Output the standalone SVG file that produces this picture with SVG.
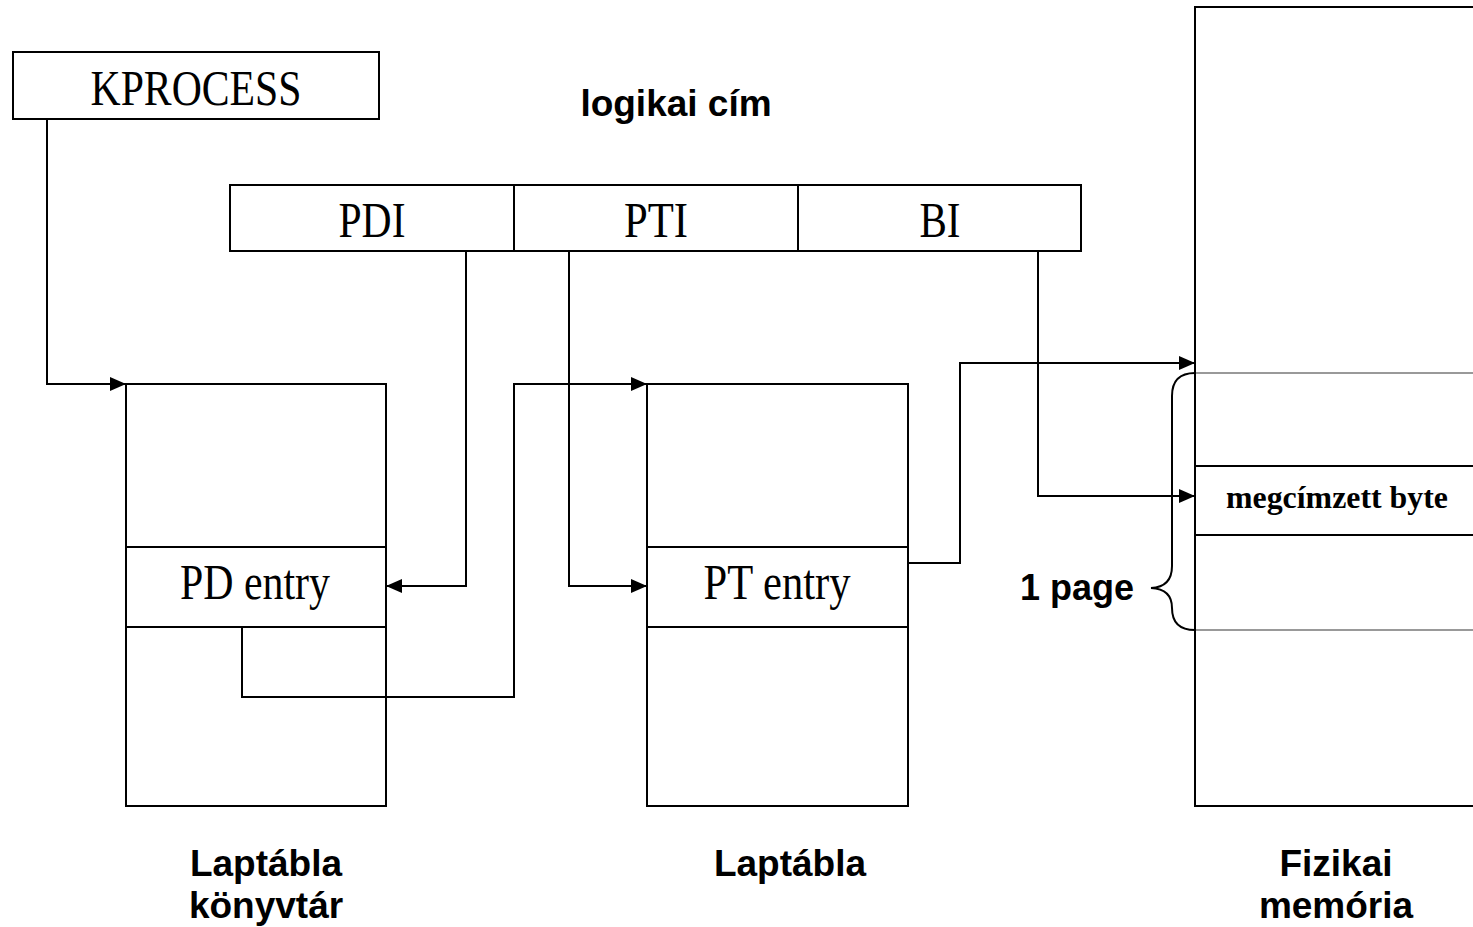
<svg xmlns="http://www.w3.org/2000/svg" width="1473" height="927" viewBox="0 0 1473 927">
  <style>
    .box { fill: #ffffff; stroke: #000000; stroke-width: 2; }
    .line { fill: none; stroke: #000000; stroke-width: 2; }
    .thin { fill: none; stroke: #999999; stroke-width: 2; }
    .serif { font-family: "Liberation Serif", "Times New Roman", serif; fill: #000000; text-anchor: middle; }
    .sans { font-family: "Liberation Sans", Arial, sans-serif; font-weight: bold; fill: #000000; text-anchor: middle; }
    .big { font-size: 50px; }
    .label { font-size: 37px; }
  </style>
  <defs>
    <marker id="arrow" markerUnits="userSpaceOnUse" markerWidth="17" markerHeight="14" refX="16" refY="7" orient="auto">
      <path d="M0,0 L16,7 L0,14 Z" fill="#000000"/>
    </marker>
  </defs>

  <rect width="1473" height="927" fill="#ffffff"/>

  <!-- process object -->
  <g id="kprocess">
    <rect class="box" x="13" y="52" width="366" height="67"/>
    <text class="serif big" x="196" y="105" textLength="211" lengthAdjust="spacingAndGlyphs">KPROCESS</text>
  </g>

  <!-- linear address fields -->
  <g id="logical-address">
    <text class="sans label" x="676" y="116">logikai cím</text>
    <rect class="box" x="230" y="185" width="851" height="66"/>
    <line class="line" x1="514" y1="185" x2="514" y2="251"/>
    <line class="line" x1="798" y1="185" x2="798" y2="251"/>
    <text class="serif big" x="372" y="237" textLength="67" lengthAdjust="spacingAndGlyphs">PDI</text>
    <text class="serif big" x="656" y="237" textLength="64" lengthAdjust="spacingAndGlyphs">PTI</text>
    <text class="serif big" x="940" y="237" textLength="41" lengthAdjust="spacingAndGlyphs">BI</text>
  </g>

  <!-- page directory -->
  <g id="page-directory">
    <rect class="box" x="126" y="384" width="260" height="422"/>
    <line class="line" x1="126" y1="547" x2="386" y2="547"/>
    <line class="line" x1="126" y1="627" x2="386" y2="627"/>
    <text class="serif big" x="255" y="599" textLength="150" lengthAdjust="spacingAndGlyphs">PD entry</text>
    <text class="sans label" x="266" y="876">Laptábla</text>
    <text class="sans label" x="266" y="918">könyvtár</text>
  </g>

  <!-- page table -->
  <g id="page-table">
    <rect class="box" x="647" y="384" width="261" height="422"/>
    <line class="line" x1="647" y1="547" x2="908" y2="547"/>
    <line class="line" x1="647" y1="627" x2="908" y2="627"/>
    <text class="serif big" x="777" y="599" textLength="147" lengthAdjust="spacingAndGlyphs">PT entry</text>
    <text class="sans label" x="790" y="876">Laptábla</text>
  </g>

  <!-- physical memory -->
  <g id="physical-memory">
    <path class="line" d="M1480,7 H1195 V806 H1480"/>
    <line class="thin" x1="1196" y1="373" x2="1473" y2="373"/>
    <line class="thin" x1="1196" y1="630" x2="1473" y2="630"/>
    <line class="line" x1="1195" y1="466" x2="1473" y2="466"/>
    <line class="line" x1="1195" y1="535" x2="1473" y2="535"/>
    <text class="serif" x="1337" y="508" font-size="31" font-weight="bold" textLength="222" lengthAdjust="spacingAndGlyphs">megcímzett byte</text>
    <text class="sans label" x="1336" y="876">Fizikai</text>
    <text class="sans label" x="1336" y="918">memória</text>
  </g>

  <!-- page extent brace -->
  <g id="page-brace">
    <path class="line" d="M1195,373 Q1172,373 1172,396 V566 Q1172,587 1151,588 Q1172,589 1172,608 Q1172,630 1195,630"/>
    <text class="sans" x="1077" y="600" font-size="36">1 page</text>
  </g>

  <!-- address translation connectors -->
  <g id="connectors">
    <path class="line" d="M47,119 V384 H126" marker-end="url(#arrow)"/>
    <path class="line" d="M466,251 V586 H386" marker-end="url(#arrow)"/>
    <path class="line" d="M569,251 V586 H647" marker-end="url(#arrow)"/>
    <path class="line" d="M242,627 V697 H514 V384 H647" marker-end="url(#arrow)"/>
    <path class="line" d="M908,563 H960 V363 H1195" marker-end="url(#arrow)"/>
    <path class="line" d="M1038,251 V496 H1195" marker-end="url(#arrow)"/>
  </g>
</svg>
